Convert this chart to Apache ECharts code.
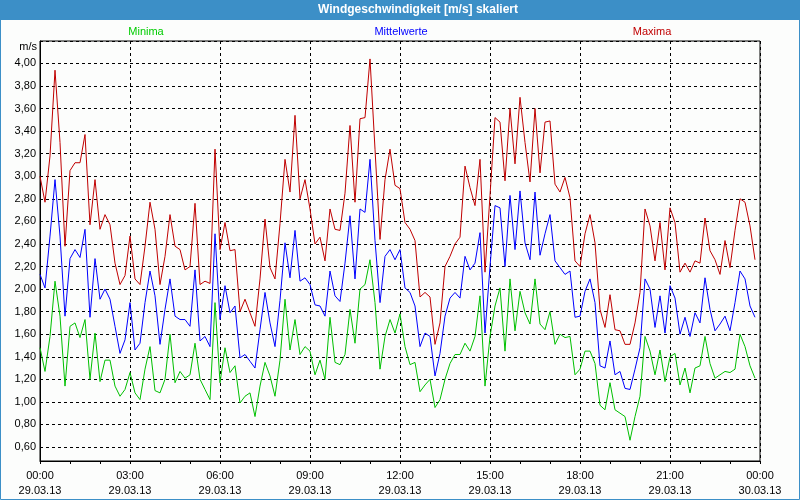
<!DOCTYPE html>
<html>
<head>
<meta charset="utf-8">
<script src="https://cdn.jsdelivr.net/npm/echarts@6/dist/echarts.min.js"></script>
<style>html,body{margin:0;padding:0;background:#fcfdfc;}#c{width:800px;height:500px;}</style>
</head>
<body>
<div id="c"></div>
<script>
// 10-minute values, 29.03.13 00:00 .. 23:50
const stepMinutes = 10;
const dayLabels = ['29.03.13', '30.03.13'];
const seriesNames = ['Minima', 'Mittelwerte', 'Maxima'];

const minima = [
1.48,1.27,1.58,2.07,1.76,1.14,1.67,1.70,1.57,1.73,1.20,1.61,1.18,1.37,1.37,1.14,1.05,1.11,1.26,1.08,1.02,1.29,1.49,1.10,
1.08,1.20,1.60,1.17,1.27,1.21,1.24,1.52,1.20,1.11,1.02,1.88,1.17,1.48,1.26,1.32,0.99,1.05,1.08,0.87,1.14,1.35,1.23,1.05,
1.37,1.91,1.46,1.73,1.42,1.49,1.45,1.24,1.37,1.20,1.75,1.35,1.33,1.42,1.82,1.52,2.00,2.04,2.26,1.88,1.29,1.58,1.73,1.61,
1.78,1.49,1.33,1.35,1.09,1.15,1.20,0.95,1.02,1.20,1.34,1.42,1.42,1.52,1.45,1.58,1.94,1.14,1.58,1.85,2.01,1.45,2.09,1.63,
1.98,1.79,1.69,2.09,1.69,1.64,1.80,1.51,1.60,1.57,1.58,1.24,1.29,1.45,1.45,1.34,0.97,0.93,1.17,0.93,0.90,0.87,0.66,0.87,
1.05,1.58,1.45,1.24,1.46,1.18,1.40,1.43,1.15,1.30,1.08,1.30,1.32,1.58,1.34,1.21,1.24,1.27,1.26,1.29,1.60,1.49,1.32,1.21
];
const mittelwerte = [
2.13,2.01,2.47,2.97,2.47,1.76,2.27,2.35,2.28,2.53,1.75,2.27,1.91,2.00,1.91,1.67,1.43,1.55,1.88,1.46,1.52,1.88,2.16,1.94,
1.51,1.82,2.09,1.76,1.73,1.73,1.67,2.17,1.54,1.58,1.49,2.49,1.73,2.03,1.79,1.85,1.39,1.42,1.36,1.30,1.64,1.97,1.70,1.49,
1.90,2.41,2.10,2.52,2.07,2.10,2.04,1.86,1.85,1.76,2.16,1.94,1.89,2.23,2.65,2.09,2.71,2.68,3.15,2.43,1.88,2.29,2.35,2.26,
2.35,2.01,1.97,1.85,1.49,1.61,1.58,1.23,1.43,1.76,1.92,1.97,1.92,2.29,2.17,2.23,2.50,1.61,2.20,2.74,2.72,2.20,2.83,2.35,
2.87,2.41,2.26,2.86,2.30,2.49,2.66,2.25,2.19,2.13,2.16,1.75,1.76,1.98,2.09,1.88,1.32,1.30,1.54,1.24,1.27,1.12,1.11,1.29,
1.48,2.09,2.00,1.66,1.94,1.61,2.03,1.92,1.60,1.75,1.58,1.79,1.70,2.10,1.82,1.63,1.69,1.76,1.63,1.88,2.16,2.09,1.85,1.75
];
const maxima = [
3.00,2.77,3.18,3.94,3.30,2.38,3.05,3.12,3.12,3.37,2.57,2.97,2.53,2.66,2.57,2.23,2.04,2.12,2.47,2.09,2.04,2.38,2.77,2.53,
2.04,2.29,2.66,2.38,2.35,2.17,2.20,2.76,2.04,2.07,2.05,3.24,2.35,2.59,2.34,2.35,1.80,1.91,1.79,1.67,2.09,2.62,2.19,2.09,
2.58,3.15,2.86,3.54,2.80,2.97,2.71,2.40,2.46,2.25,2.71,2.53,2.52,2.85,3.45,2.77,3.51,3.52,4.04,3.24,2.44,2.97,3.24,2.92,
2.89,2.59,2.53,2.43,1.93,1.97,1.93,1.51,1.70,2.20,2.29,2.40,2.46,3.09,2.90,2.74,3.15,2.15,2.83,3.52,3.48,2.96,3.60,3.11,
3.70,3.30,2.95,3.60,3.03,3.48,3.49,2.93,2.86,2.99,2.81,2.25,2.20,2.49,2.66,2.41,1.82,1.66,1.95,1.64,1.63,1.51,1.51,1.70,
1.97,2.71,2.56,2.25,2.59,2.17,2.72,2.59,2.15,2.23,2.15,2.25,2.23,2.63,2.34,2.26,2.13,2.43,2.19,2.52,2.80,2.77,2.56,2.26
];

const colors = ['#00c000', '#0000ff', '#c00000'];
const font = 'Liberation Sans, Arial, sans-serif';

function toPairs(arr) { return arr.map((v, i) => [i * stepMinutes, v]); }
function pad(n) { return (n < 10 ? '0' : '') + n; }

const chart = echarts.init(document.getElementById('c'), null, {renderer: 'canvas'});
chart.setOption({
  backgroundColor: '#fcfdfc',
  animation: false,
  grid: {left: 40, right: 40, top: 41, bottom: 39, show: true, borderColor: '#000', borderWidth: 1, backgroundColor: 'transparent'},
  xAxis: {
    type: 'value', min: 0, max: 1440, interval: 180,
    axisLine: {show: true, lineStyle: {color: '#000', width: 1}},
    axisTick: {show: true, length: 3, lineStyle: {color: '#000'}},
    minorTick: {show: true, splitNumber: 3, length: 3, lineStyle: {color: '#000'}},
    splitLine: {show: true, lineStyle: {color: '#000', type: [3, 3], width: 1}},
    axisLabel: {
      color: '#000', fontFamily: font, fontSize: 11, lineHeight: 15, margin: 7,
      showMinLabel: true, showMaxLabel: true,
      formatter: function (v) {
        const h = Math.floor(v / 60) % 24, m = v % 60;
        return pad(h) + ':' + pad(m) + '\n' + (v >= 1440 ? dayLabels[1] : dayLabels[0]);
      }
    }
  },
  yAxis: {
    type: 'value', min: 0.476, max: 4.199, splitNumber: 17, minInterval: 0.2, maxInterval: 0.2,
    axisLine: {show: true, lineStyle: {color: '#000', width: 1}},
    axisTick: {show: false},
    splitLine: {show: true, lineStyle: {color: '#000', type: [3, 3], width: 1}},
    axisLabel: {
      color: '#000', fontFamily: font, fontSize: 11, margin: 4,
      showMinLabel: false, showMaxLabel: false,
      formatter: function (v) {
        if (v < 0.59 || v > 4.01) return '';
        return v.toFixed(2).replace('.', ',');
      }
    }
  },
  series: [
    {name: seriesNames[0], type: 'line', data: toPairs(minima), showSymbol: false, lineStyle: {color: colors[0], width: 1}, itemStyle: {color: colors[0]}},
    {name: seriesNames[1], type: 'line', data: toPairs(mittelwerte), showSymbol: false, lineStyle: {color: colors[1], width: 1}, itemStyle: {color: colors[1]}},
    {name: seriesNames[2], type: 'line', data: toPairs(maxima), showSymbol: false, lineStyle: {color: colors[2], width: 1}, itemStyle: {color: colors[2]}}
  ],
  graphic: [
    {type: 'rect', shape: {x: 0, y: 0, width: 800, height: 20}, style: {fill: '#3c8fc7'}, z: 10},
    {type: 'rect', shape: {x: 0.5, y: 0.5, width: 799, height: 499}, style: {fill: null, stroke: '#3c8fc7', lineWidth: 1}, z: 10},
    {type: 'text', x: 418, y: 10, z: 11, style: {text: 'Windgeschwindigkeit [m/s] skaliert', fill: '#ffffff', font: 'bold 12px ' + font, textAlign: 'center', textVerticalAlign: 'middle'}},
    {type: 'text', x: 146, y: 32, z: 11, style: {text: seriesNames[0], fill: '#00cc00', font: '11px ' + font, textAlign: 'center', textVerticalAlign: 'middle'}},
    {type: 'text', x: 401, y: 32, z: 11, style: {text: seriesNames[1], fill: '#0000ff', font: '11px ' + font, textAlign: 'center', textVerticalAlign: 'middle'}},
    {type: 'text', x: 652, y: 32, z: 11, style: {text: seriesNames[2], fill: '#c00000', font: '11px ' + font, textAlign: 'center', textVerticalAlign: 'middle'}},
    {type: 'text', x: 37, y: 47, z: 11, style: {text: 'm/s', fill: '#000', font: '11px ' + font, textAlign: 'right', textVerticalAlign: 'middle'}}
  ]
});
</script>
</body>
</html>
